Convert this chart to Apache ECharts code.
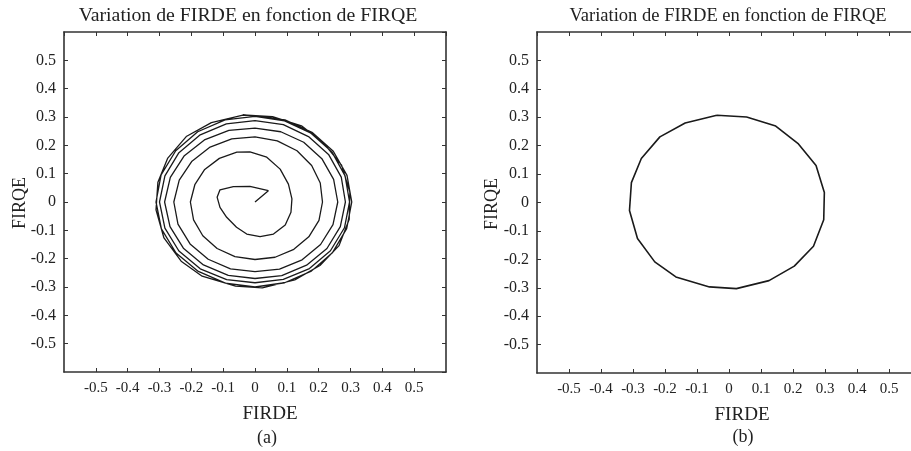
<!DOCTYPE html>
<html><head><meta charset="utf-8">
<script src="https://cdn.jsdelivr.net/npm/echarts@6/dist/echarts.min.js"></script>
<style>html,body{margin:0;padding:0;background:#fff}#c{width:911px;height:451px}</style>
</head><body><div id="c"></div>
<script>
// Panel (a): spiral trajectory [FIRDE, FIRQE]
const spiralA = [
 [0,0],[0.042,0.040],[-0.016,0.055],[-0.068,0.054],[-0.110,0.043],[-0.119,0.017],[-0.110,-0.019],
 [-0.089,-0.054],[-0.058,-0.089],[-0.026,-0.113],[0.016,-0.122],[0.058,-0.113],[0.095,-0.081],
 [0.113,-0.036],[0.116,0.011],[0.105,0.063],[0.079,0.116],[0.037,0.158],[-0.016,0.177],
 [-0.057,0.176],[-0.112,0.154],[-0.158,0.115],[-0.189,0.061],[-0.203,0],[-0.193,-0.063],
 [-0.164,-0.119],[-0.119,-0.164],[-0.063,-0.193],[0,-0.203],[0.063,-0.195],[0.122,-0.167],
 [0.169,-0.123],[0.201,-0.065],[0.212,0],[0.205,0.067],[0.178,0.129],[0.132,0.181],[0.070,0.216],[0,0.230],
 [-0.073,0.223],[-0.141,0.194],[-0.198,0.144],[-0.238,0.077],[-0.255,0],[-0.242,-0.078],
 [-0.204,-0.148],[-0.147,-0.202],[-0.077,-0.236],[0,-0.246],[0.077,-0.237],[0.148,-0.204],
 [0.206,-0.150],[0.245,-0.080],[0.260,0],[0.247,0.080],[0.210,0.153],[0.153,0.211],[0.081,0.248],[0,0.261],
 [-0.082,0.253],[-0.159,0.219],[-0.223,0.162],[-0.266,0.087],[-0.284,0],[-0.267,-0.087],
 [-0.225,-0.163],[-0.162,-0.222],[-0.084,-0.259],[0,-0.270],[0.084,-0.260],[0.162,-0.223],
 [0.226,-0.164],[0.268,-0.087],[0.284,0],[0.271,0.088],[0.231,0.168],[0.168,0.231],[0.089,0.273],[0,0.287],
 [-0.090,0.276],[-0.172,0.237],[-0.239,0.174],[-0.283,0.092],[-0.300,0],[-0.283,-0.092],
 [-0.239,-0.173],[-0.172,-0.236],[-0.089,-0.274],[0,-0.285],[0.089,-0.273],[0.171,-0.235],
 [0.237,-0.172],[0.281,-0.091],[0.297,0],[0.283,0.092],[0.242,0.176],[0.176,0.243],[0.093,0.286],[0,0.302],
 [-0.094,0.290],[-0.180,0.248],[-0.249,0.181],[-0.295,0.096],[-0.311,0],[-0.294,-0.095],
 [-0.248,-0.180],[-0.178,-0.245],[-0.093,-0.286],[0,-0.300],[0.093,-0.285],[0.177,-0.244],
 [0.244,-0.178],[0.288,-0.094],[0.304,0],[0.289,0.094],[0.246,0.179],[0.179,0.246],[0.094,0.290],[0,0.305]
];
// Limit cycle (counter-clockwise)
const limitCycle = [
 [-0.038,0.307],[-0.137,0.280],[-0.216,0.231],[-0.274,0.155],[-0.305,0.070],[-0.311,-0.028],
 [-0.286,-0.127],[-0.232,-0.209],[-0.166,-0.262],[-0.061,-0.297],[0.023,-0.303],[0.125,-0.275],
 [0.204,-0.224],[0.264,-0.154],[0.296,-0.061],[0.298,0.035],[0.272,0.130],[0.217,0.206],
 [0.146,0.269],[0.055,0.301],[-0.038,0.307]
];
const panelA = spiralA.concat(limitCycle, limitCycle.slice(1));
const panelB = limitCycle;
const tickInterval = 0.1;
const axisMin = -0.6, axisMax = 0.6;
const titleText = 'Variation de FIRDE en fonction de FIRQE';
const xName = 'FIRDE', yName = 'FIRQE';
const captions = ['(a)', '(b)'];

const FONT = '"Liberation Serif", "Times New Roman", serif';
const INK = '#222';
const fmt = v => Math.abs(v) < 1e-9 ? '0' : String(+v.toFixed(1));

function axisCommon(grid, labelled, dim, pos) {
  return {
    type: 'value', gridIndex: grid, position: pos,
    min: axisMin, max: axisMax, interval: tickInterval,
    splitLine: { show: false },
    axisLine: { show: true, onZero: false, lineStyle: { color: '#333', width: 1.6 } },
    axisTick: { show: true, inside: true, length: 4, lineStyle: { color: '#333', width: 1 } },
    axisLabel: labelled ? {
      show: true, formatter: fmt, showMinLabel: false, showMaxLabel: false,
      fontFamily: FONT, fontSize: dim === 'x' ? 15 : 16, color: INK, margin: dim === 'x' ? 9 : 8
    } : { show: false }
  };
}

const grids = [
  { left: 64, top: 32, width: 382, height: 340, outerBoundsMode: 'none', containLabel: false },
  { left: 537, top: 32, width: 384, height: 341, outerBoundsMode: 'none', containLabel: false }
];

function txt(x, y, s, size, extra) {
  return Object.assign({ type: 'text', x: x, y: y,
    style: { text: s, font: size + 'px ' + FONT, fill: INK, align: 'center', verticalAlign: 'middle' } }, extra || {});
}

const option = {
  animation: false,
  backgroundColor: '#fff',
  grid: grids,
  xAxis: [
    axisCommon(0, true, 'x', 'bottom'), axisCommon(0, false, 'x', 'top'),
    axisCommon(1, true, 'x', 'bottom'), axisCommon(1, false, 'x', 'top')
  ],
  yAxis: [
    axisCommon(0, true, 'y', 'left'), axisCommon(0, false, 'y', 'right'),
    axisCommon(1, true, 'y', 'left'), axisCommon(1, false, 'y', 'right')
  ],
  series: [
    { type: 'line', xAxisIndex: 0, yAxisIndex: 0, data: panelA, showSymbol: false, symbol: 'none',
      lineStyle: { color: '#1a1a1a', width: 1.3 }, clip: true },
    { type: 'line', xAxisIndex: 2, yAxisIndex: 2, data: panelB, showSymbol: false, symbol: 'none',
      lineStyle: { color: '#1a1a1a', width: 1.6 }, clip: true }
  ],
  graphic: [
    txt(248, 16, titleText, 18, { scaleX: 1.1 }),
    txt(728, 16, titleText, 18, { scaleX: 1.03 }),
    txt(270, 414, xName, 18, { scaleX: 1.06 }),
    txt(742, 415, xName, 18, { scaleX: 1.06 }),
    txt(20, 203, yName, 18, { rotation: Math.PI / 2 }),
    txt(492, 204, yName, 18, { rotation: Math.PI / 2 }),
    txt(267, 438, captions[0], 18),
    txt(743, 437, captions[1], 18)
  ]
};
const chart = echarts.init(document.getElementById('c'), null, { renderer: 'canvas' });
chart.setOption(option);
</script>
</body></html>
